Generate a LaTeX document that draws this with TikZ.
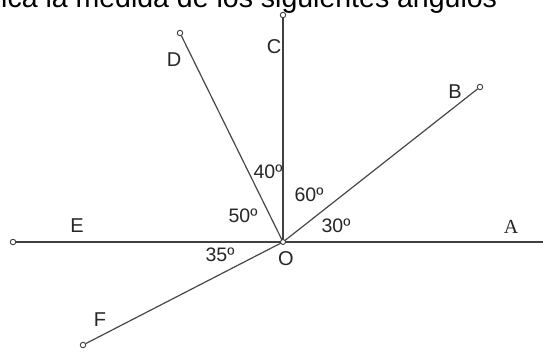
\documentclass[tikz,border=0pt]{standalone}
\usepackage{fontspec}
\setmainfont{Liberation Sans}
\newfontfamily\serifA{Liberation Serif}
\begin{document}
\begin{tikzpicture}[x=1pt,y=-1pt,
  ray/.style={draw=black!72,line width=1.2pt},
  axis/.style={draw=black!75,line width=1.6pt},
  endpt/.style={circle,draw=black!75,fill=white,line width=0.9pt,inner sep=0pt,minimum size=5.5pt},
  lbl/.style={font=\fontsize{20}{22}\selectfont,text=black!85,inner sep=0pt},
  ang/.style={font=\fontsize{19.5}{22}\selectfont,text=black!85,inner sep=0pt}]
\useasboundingbox (0,0) rectangle (543,351);
\clip (0,0) rectangle (543,351);
\node[anchor=base west,inner sep=0pt,font=\fontsize{28.5}{30}\selectfont] (title) at (1,7) {ica la medida de los siguientes ángulos};
% points
\coordinate (O) at (283,242);
\coordinate (A) at (545,242);
\node[endpt] (B) at (480,87) {};
\node[endpt] (C) at (283,15) {};
\node[endpt] (D) at (180,33) {};
\node[endpt] (E) at (13,242) {};
\node[endpt] (F) at (83,345) {};
% rays
\draw[axis] (O) -- (A);
\draw[ray] (O) -- (B);
\draw[axis] (O) -- (C);
\draw[ray] (O) -- (D);
\draw[axis] (O) -- (E);
\draw[ray] (O) -- (F);
\node[endpt,minimum size=5pt] (Oc) at (O) {};
% labels
\node[lbl] (lA) at (511,227) {\serifA A};
\node[lbl] (lB) at (455,92) {B};
\node[lbl] (lC) at (274,47) {C};
\node[lbl] (lD) at (174,60) {D};
\node[lbl] (lE) at (77,226) {E};
\node[lbl] (lF) at (100,320) {F};
\node[lbl] (lO) at (286,259) {O};
\node[ang] (a40) at (268,172) {40º};
\node[ang] (a60) at (309,195) {60º};
\node[ang] (a50) at (243,216) {50º};
\node[ang] (a30) at (336,226) {30º};
\node[ang] (a35) at (220,255) {35º};
\end{tikzpicture}
\end{document}
